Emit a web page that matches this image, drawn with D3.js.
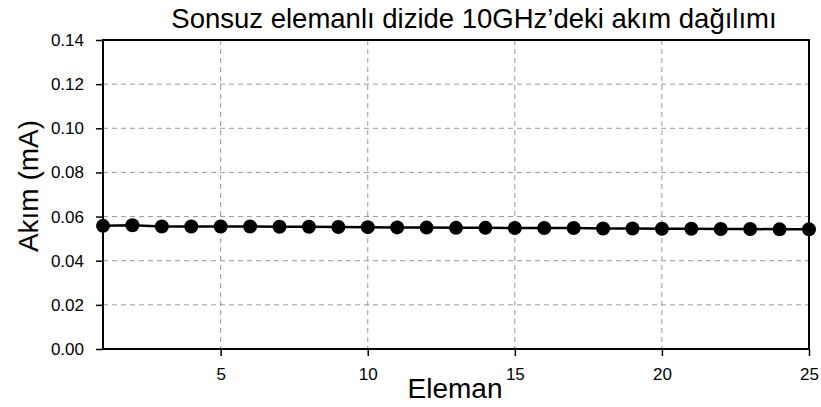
<!DOCTYPE html>
<html><head><meta charset="utf-8">
<script src="https://cdn.jsdelivr.net/npm/d3@7"></script>
<style>body{margin:0;background:#fff}svg{display:block}</style>
</head><body>
<svg id="c" width="821" height="407"></svg>
<script>
const elements = d3.range(1, 26);
const current = [0.0558,0.0561,0.0555,0.0555,0.0555,0.0555,0.0554,0.0554,0.0553,0.0552,0.0551,0.0550,0.0549,0.0549,0.0548,0.0548,0.0548,0.0546,0.0546,0.0545,0.0545,0.0544,0.0544,0.0542,0.0542];
const yTicks = [0,0.02,0.04,0.06,0.08,0.10,0.12,0.14];
const xTicks = [5,10,15,20,25];
const title = "Sonsuz elemanlı dizide 10GHz’deki akım dağılımı";
const xLabel = "Eleman";
const yLabel = "Akım (mA)";

const svg = d3.select("#c");
const L=103, R=809, T=40, B=349;
const x = d3.scaleLinear().domain([1,25]).range([L,R]);
const y = d3.scaleLinear().domain([0,0.14]).range([B,T]);
const font = "'Liberation Sans', Arial, sans-serif";

// grid
svg.append("g").selectAll("line").data(yTicks.filter(d=>d>0&&d<0.14)).join("line")
  .attr("x1",L).attr("x2",R).attr("y1",d=>y(d)).attr("y2",d=>y(d))
  .attr("stroke","#999").attr("stroke-width",1).attr("stroke-dasharray","5,4");
svg.append("g").selectAll("line").data(xTicks.filter(d=>d<25)).join("line")
  .attr("y1",T).attr("y2",B).attr("x1",d=>x(d)).attr("x2",d=>x(d))
  .attr("stroke","#999").attr("stroke-width",1).attr("stroke-dasharray","5,4");

// axes
const ya = svg.append("g").attr("transform",`translate(${L},0)`)
  .call(d3.axisLeft(y).tickValues(yTicks).tickFormat(d3.format(".2f")).tickSize(7).tickPadding(12));
ya.select(".domain").remove();
ya.attr("font-size",null).attr("font-family",null);
ya.selectAll("text").style("font-family",font).style("font-size","17px").attr("fill","#000");
ya.selectAll("line").attr("stroke","#000").attr("stroke-width",1.5);

const xa = svg.append("g").attr("transform",`translate(0,${B})`)
  .call(d3.axisBottom(x).tickValues(xTicks).tickSize(7).tickPadding(12));
xa.select(".domain").remove();
xa.attr("font-size",null).attr("font-family",null);
xa.selectAll("text").style("font-family",font).style("font-size","17px").attr("fill","#000");
xa.selectAll("line").attr("stroke","#000").attr("stroke-width",1.5);

// frame
svg.append("rect").attr("x",L).attr("y",T).attr("width",R-L).attr("height",B-T)
  .attr("fill","none").attr("stroke","#000").attr("stroke-width",2);

// line + points
const data = elements.map((e,i)=>({e, v: current[i]}));
svg.append("path").datum(data)
  .attr("d", d3.line().x(d=>x(d.e)).y(d=>y(d.v)))
  .attr("fill","none").attr("stroke","#000").attr("stroke-width",2.5);
svg.append("g").selectAll("circle").data(data).join("circle")
  .attr("cx",d=>x(d.e)).attr("cy",d=>y(d.v)).attr("r",7).attr("fill","#000");

// labels
svg.append("text").attr("x",474).attr("y",28).attr("text-anchor","middle")
  .attr("font-family",font).attr("font-size",27.5).text(title);
svg.append("text").attr("x",455).attr("y",398).attr("text-anchor","middle")
  .attr("font-family",font).attr("font-size",28).text(xLabel);
svg.append("text").attr("transform","translate(38,186) rotate(-90)").attr("text-anchor","middle")
  .attr("font-family",font).attr("font-size",28).text(yLabel);
</script>
</body></html>
